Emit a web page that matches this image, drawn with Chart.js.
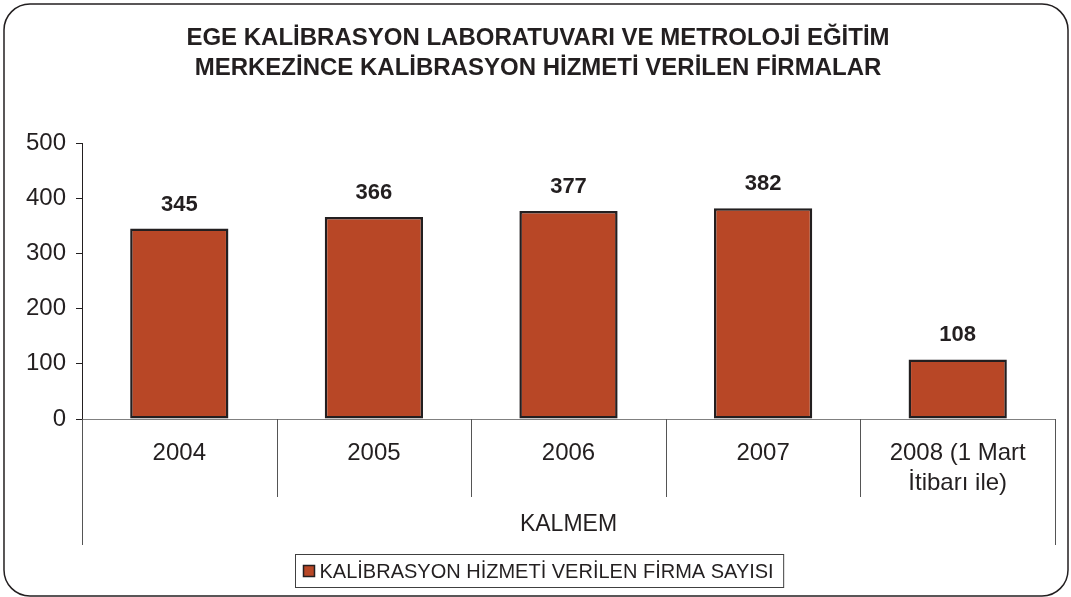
<!DOCTYPE html>
<html>
<head>
<meta charset="utf-8">
<script src="https://cdn.jsdelivr.net/npm/chart.js@4.4.1/dist/chart.umd.min.js"></script>
<style>
  html, body { margin: 0; padding: 0; background: #fff; }
  #wrap { width: 1071px; height: 597px; position: relative; }
</style>
</head>
<body>
<div id="wrap"><canvas id="kalChart"></canvas></div>
<script>
// chart data
const titleLines = ['EGE KALİBRASYON LABORATUVARI VE METROLOJİ EĞİTİM', 'MERKEZİNCE KALİBRASYON HİZMETİ VERİLEN FİRMALAR'];
const years = ['2004', '2005', '2006', '2007', ['2008 (1 Mart', 'İtibarı ile)']];
const firmCounts = [345, 366, 377, 382, 108];
const seriesName = 'KALİBRASYON HİZMETİ VERİLEN FİRMA SAYISI';
const groupName = 'KALMEM';
const yMin = 0, yMax = 500, yStep = 100;

const ink = '#231f20';
const barFill = '#b84726';
const fontFam = "'Liberation Sans', Arial, sans-serif";
Chart.defaults.font.family = fontFam;
Chart.defaults.color = ink;

// draws frame, title, value labels, category separators, group label and legend
const decorations = {
    id: 'decorations',
    afterDraw(chart) {
        const ctx = chart.ctx;
        const area = chart.chartArea;
        ctx.save();

        // rounded outer frame
        ctx.strokeStyle = ink;
        ctx.lineWidth = 1.5;
        ctx.beginPath();
        ctx.roundRect(4, 4, 1064, 592, 26);
        ctx.stroke();

        // title
        ctx.fillStyle = ink;
        ctx.font = 'bold 24px ' + fontFam;
        ctx.textAlign = 'center';
        ctx.textBaseline = 'middle';
        titleLines.forEach((t, i) => ctx.fillText(t, 538, 38 + i * 30));

        // value labels above bars
        ctx.font = 'bold 22px ' + fontFam;
        chart.getDatasetMeta(0).data.forEach((bar, i) => {
            ctx.fillText(firmCounts[i], bar.x, bar.y - 24);
        });

        // category separators below axis
        const n = years.length;
        const w = (area.right - area.left) / n;
        ctx.strokeStyle = '#555';
        ctx.lineWidth = 1;
        for (let i = 0; i <= n; i++) {
            const x = Math.round(area.left + i * w) + 0.5;
            const end = (i === 0 || i === n) ? 545 : 497;
            ctx.beginPath();
            ctx.moveTo(x, area.bottom);
            ctx.lineTo(x, end);
            ctx.stroke();
        }

        // group label
        ctx.font = '23px ' + fontFam;
        ctx.fillText(groupName, (area.left + area.right) / 2, 525);

        // legend box
        ctx.font = '20px ' + fontFam;
        const tw = ctx.measureText(seriesName).width;
        const boxW = 8 + 12 + 4 + tw + 10;
        const bx = Math.round(539 - boxW / 2) + 0.5;
        const by = 554.5;
        ctx.strokeStyle = '#404040';
        ctx.strokeRect(bx, by, boxW, 33);
        ctx.fillStyle = barFill;
        ctx.fillRect(bx + 8, by + 11, 11, 11);
        ctx.strokeStyle = ink;
        ctx.lineWidth = 1.5;
        ctx.strokeRect(bx + 8, by + 11, 11, 11);
        ctx.fillStyle = ink;
        ctx.textAlign = 'left';
        ctx.fillText(seriesName, bx + 24, by + 17.5);

        ctx.restore();
    }
};

new Chart(document.getElementById('kalChart'), {
    type: 'bar',
    data: {
        labels: years,
        datasets: [{
            label: seriesName,
            data: firmCounts,
            backgroundColor: barFill,
            borderColor: ink,
            borderWidth: 2.5,
            borderSkipped: false,
            barPercentage: 0.505,
            categoryPercentage: 1
        }]
    },
    options: {
        responsive: true,
        maintainAspectRatio: false,
        animation: false,
        layout: { padding: { top: 143, right: 16, left: 0, bottom: 0 } },
        plugins: {
            legend: { display: false },
            title: { display: false },
            tooltip: { enabled: false }
        },
        scales: {
            x: {
                grid: { display: false, drawTicks: false },
                border: { color: '#808080', width: 1 },
                ticks: {
                    padding: 19,
                    maxRotation: 0,
                    autoSkip: false,
                    font: { size: 24, lineHeight: 1.25 }
                },
                afterFit(s) { s.height = 178; }
            },
            y: {
                min: yMin,
                max: yMax,
                ticks: { stepSize: yStep, padding: 10, font: { size: 24 } },
                grid: { drawOnChartArea: false, tickLength: 6, color: ink },
                border: { color: ink, width: 1 },
                afterFit(s) { s.width = 82; }
            }
        }
    },
    plugins: [decorations]
});
</script>
</body>
</html>
